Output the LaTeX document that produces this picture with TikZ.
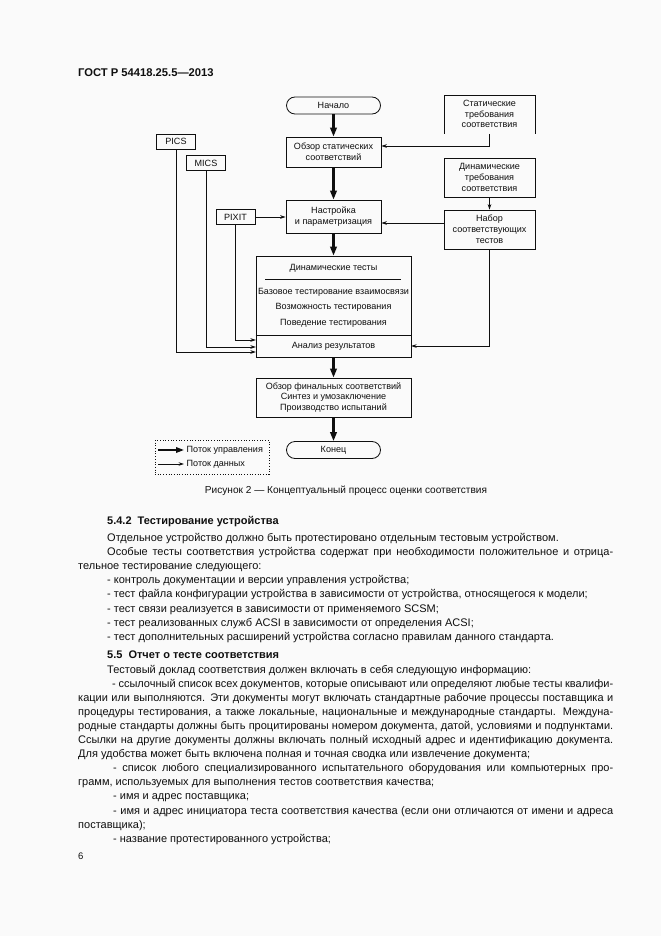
\documentclass[tikz,border=0pt]{standalone}
\usepackage{fontspec}
\setmainfont{Liberation Sans}
\usetikzlibrary{arrows.meta,calc}
\definecolor{ink}{RGB}{15,15,15}
\definecolor{pagebg}{RGB}{250,250,250}
\newcommand{\dfont}{\fontsize{9.05}{10.8}\selectfont}
\newcommand{\bfont}{\fontsize{11.0}{12}\selectfont}
\newcommand{\capfont}{\fontsize{10.1}{11}\selectfont}
\newcommand{\myJ}[4]{\node[anchor=base west, font=\bfont] (#1) at (#2,#3) {\spaceskip=0.278em plus 0.4em minus 0.1em\makebox[\dimexpr613pt-#2pt\relax][s]{#4}};}
\newcommand{\myL}[4]{\node[anchor=base west, font=\bfont] (#1) at (#2,#3) {#4};}
\begin{document}
\begin{tikzpicture}[x=1pt,y=-1pt,
  every node/.style={inner sep=0pt, text=ink},
  box/.style={draw=ink, line width=0.8pt, font=\dfont, align=center, inner sep=0pt},
  ctrl/.style={draw=ink, line width=2.1pt, -{Triangle[length=9pt,width=6.5pt]}},
  data/.style={draw=ink, line width=0.75pt, -{Stealth[length=5.5pt,width=3.6pt]}},
  ]
\fill[pagebg] (0,0) rectangle (661,936);
\useasboundingbox (0,0) rectangle (661,936);

% header
\node[anchor=base west, font=\bfseries\fontsize{11.2}{13}\selectfont] (hdr) at (78,77) {ГОСТ Р 54418.25.5—2013};

% ---------- diagram ----------
\node[box, rounded corners=8.5pt, minimum width=94pt, minimum height=17pt] (start) at (333.5,105.5) {Начало};
\node[box, minimum width=95pt, minimum height=30pt] (rev) at (333.5,152) {Обзор статических\\соответствий};
\node[box, minimum width=95pt, minimum height=33pt] (set) at (333.5,216.5) {Настройка\\и параметризация};
\node[box, minimum width=155pt, minimum height=101pt] (dyn) at (333.5,306.5) {};
\node[minimum width=155pt, minimum height=21pt, font=\dfont] (ana) at (333.5,346.5) {Анализ результатов};
\draw[ink, line width=0.8pt] (dyn.west |- ana.north) -- (dyn.east |- ana.north);
\node[font=\dfont] (dt) at (333.5,268) {Динамические тесты};
\coordinate (dl1) at (265,279);
\coordinate (dl2) at (401,279);
\draw[ink, line width=0.6pt] (dl1) -- (dl2);
\node[font=\dfont] (d1) at (333.5,292) {Базовое тестирование взаимосвязи};
\node[font=\dfont] (d2) at (333.5,307.5) {Возможность тестирования};
\node[font=\dfont] (d3) at (333.5,323) {Поведение тестирования};
\node[box, minimum width=155pt, minimum height=39pt] (fin) at (333.5,397.5) {Обзор финальных соответствий\\Синтез и умозаключение\\Производство испытаний};
\node[box, rounded corners=8.5pt, minimum width=94pt, minimum height=17pt] (end) at (333.5,450) {Конец};

\node[box, minimum width=39pt, minimum height=15pt] (pics) at (176,141.5) {PICS};
\node[box, minimum width=39pt, minimum height=15pt] (mics) at (206,163) {MICS};
\node[box, minimum width=39pt, minimum height=15pt] (pixit) at (235.5,217) {PIXIT};

\node[font=\dfont, align=center] (streq) at (489.5,114) {Статические\\требования\\соответствия};
\draw[ink, line width=0.8pt] (444,134) |- (535,95) -- (535,134);
\coordinate (sb) at (489.5,134);
\node[box, minimum width=91pt, minimum height=39pt] (dynreq) at (489.5,177.5) {Динамические\\требования\\соответствия};
\node[box, minimum width=91pt, minimum height=39pt] (nabor) at (489.5,229.5) {Набор\\соответствующих\\тестов};

% control flow
\draw[ctrl] (start) -- (rev);
\draw[ctrl] (rev) -- (set);
\draw[ctrl] (set) -- (dyn);
\draw[ctrl] (dyn) -- (fin);
\draw[ctrl] (fin) -- (end);

% data flow
\draw[data] (sb) |- ([yshift=6pt]rev.east);
\draw[data] (dynreq) -- (nabor);
\coordinate (nw) at ([yshift=6.5pt]nabor.west);
\draw[data] (nw) -- (nw -| set.east);
\draw[data] (pixit.east) -- (pixit.east -| set.west);
\draw[data] (pixit.south) |- ([yshift=6.5pt]ana.west);
\draw[data] (mics.south) |- ([yshift=-0.5pt]ana.west);
\draw[data] (pics.south) |- ([yshift=-5.5pt]ana.west);
\draw[data] (nabor.south) |- ([yshift=0.5pt]ana.east);

% legend
\node[draw=ink, dotted, line width=0.7pt, minimum width=114pt, minimum height=34pt] (legend) at (212,457) {};
\coordinate (la1) at (158,450);
\coordinate (lb1) at (184,450);
\coordinate (la2) at (158,464);
\coordinate (lb2) at (184,464);
\draw[ctrl, line width=1.7pt, -{Triangle[length=8pt,width=5.5pt]}] (la1) -- (lb1);
\draw[data] (la2) -- (lb2);
\node[anchor=west, font=\dfont] (lt1) at (186.5,450) {Поток управления};
\node[anchor=west, font=\dfont] (lt2) at (186.5,464) {Поток данных};

\node[font=\capfont] (cap) at (346,491) {Рисунок 2 — Концептуальный процесс оценки соответствия};

% ---------- body text ----------
\node[anchor=base west, font=\bfont\bfseries] (h1) at (107,524) {5.4.2\hspace{0.55em}Тестирование устройства};
\myL{a1}{107}{541.5}{Отдельное устройство должно быть протестировано отдельным тестовым устройством.}
\myJ{a2}{107}{555.6}{Особые тесты соответствия устройства содержат при необходимости положительное и отрица-}
\myL{a3}{78}{569.7}{тельное тестирование следующего:}
\myL{a4}{107}{583.8}{- контроль документации и версии управления устройства;}
\myL{a5}{107}{597.9}{- тест файла конфигурации устройства в зависимости от устройства, относящегося к модели;}
\myL{a6}{107}{612}{- тест связи реализуется в зависимости от применяемого SCSM;}
\myL{a7}{107}{626.1}{- тест реализованных служб ACSI в зависимости от определения ACSI;}
\myL{a8}{107}{640.2}{- тест дополнительных расширений устройства согласно правилам данного стандарта.}

\node[anchor=base west, font=\bfont\bfseries] (h2) at (107,658) {5.5\hspace{0.55em}Отчет о тесте соответствия};
\myL{b1}{107}{673}{Тестовый доклад соответствия должен включать в себя следующую информацию:}
\myJ{b2}{112}{687.1}{- ссылочный список всех документов, которые описывают или определяют любые тесты квалифи-}
\myJ{b3}{78}{701.2}{кации или выполняются. Эти документы могут включать стандартные рабочие процессы поставщика и}
\myJ{b4}{78}{715.3}{процедуры тестирования, а также локальные, национальные и международные стандарты. Междуна-}
\myJ{b5}{78}{729.4}{родные стандарты должны быть процитированы номером документа, датой, условиями и подпунктами.}
\myJ{b6}{78}{743.5}{Ссылки на другие документы должны включать полный исходный адрес и идентификацию документа.}
\myL{b7}{78}{757.6}{Для удобства может быть включена полная и точная сводка или извлечение документа;}
\myJ{b8}{113}{771.7}{- список любого специализированного испытательного оборудования или компьютерных про-}
\myL{b9}{78}{785.8}{грамм, используемых для выполнения тестов соответствия качества;}
\myL{b10}{113}{799.9}{- имя и адрес поставщика;}
\myJ{b11}{113}{814}{- имя и адрес инициатора теста соответствия качества (если они отличаются от имени и адреса}
\myL{b12}{78}{828.1}{поставщика);}
\myL{b13}{113}{842.2}{- название протестированного устройства;}

\node[anchor=base west, font=\fontsize{9.5}{11}\selectfont] (pg) at (78,859) {6};
\end{tikzpicture}
\end{document}
